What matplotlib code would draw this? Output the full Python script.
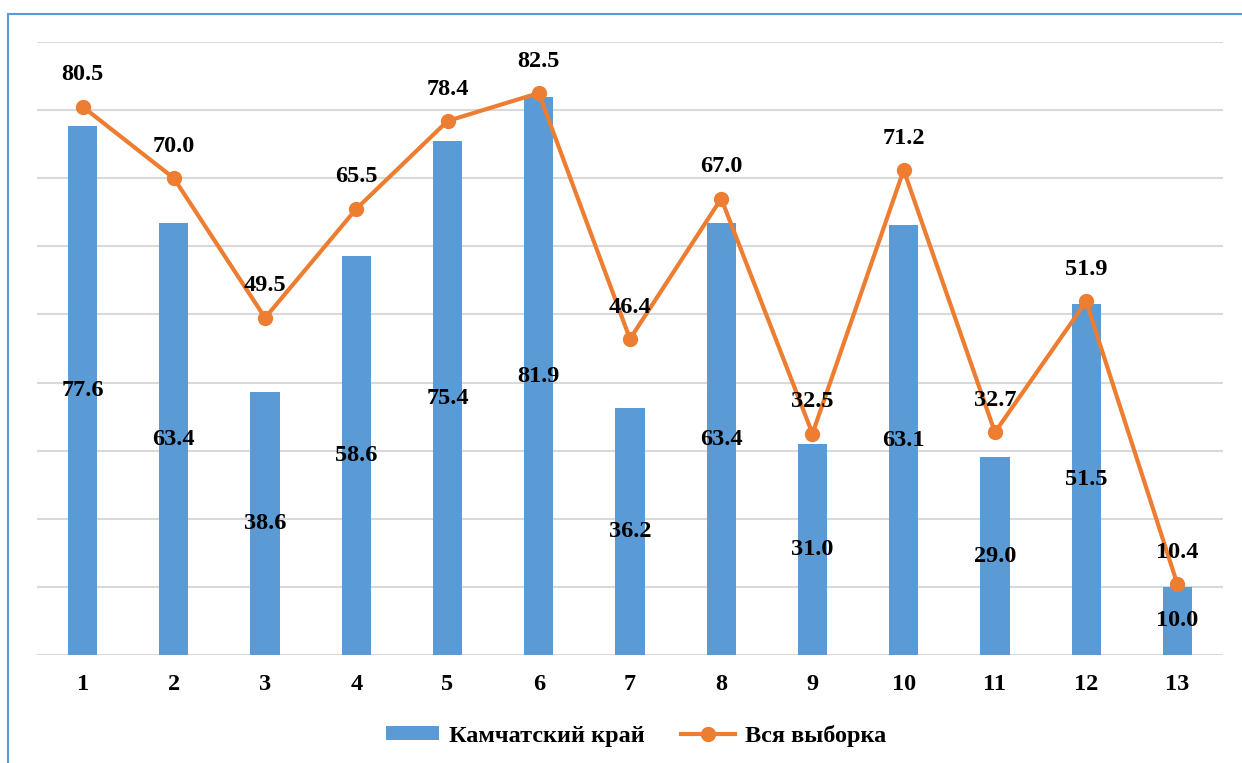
import matplotlib.pyplot as plt
from matplotlib.patches import Rectangle
import numpy as np

# data
categories = [str(i) for i in range(1, 14)]
kamchatka = [77.6, 63.4, 38.6, 58.6, 75.4, 81.9, 36.2, 63.4, 31.0, 63.1, 29.0, 51.5, 10.0]
whole_sample = [80.5, 70.0, 49.5, 65.5, 78.4, 82.5, 46.4, 67.0, 32.5, 71.2, 32.7, 51.9, 10.4]

blue = '#5B9BD5'
orange = '#ED7D31'
font = 'Liberation Serif'
fs = 17.5

fig = plt.figure(figsize=(12.42, 7.63), dpi=100)
ax = fig.add_axes([0.0298, 0.1415, 0.9549, 0.8035])

x = np.arange(1, len(categories) + 1)
bars = ax.bar(x, kamchatka, width=0.32, color=blue, zorder=2, label='Камчатский край')
line, = ax.plot(x, whole_sample, color=orange, linewidth=3, marker='o', markersize=10,
                zorder=3, label='Вся выборка')

# bar labels in the middle of each bar
for xi, v in zip(x, kamchatka):
    ax.text(xi, v / 2, f'{v:.1f}', ha='center', va='center', fontsize=fs,
            fontweight='bold', family=font, zorder=4)

# line labels above the markers
for xi, v in zip(x, whole_sample):
    ax.annotate(f'{v:.1f}', (xi, v), xytext=(0, 23), textcoords='offset points',
                ha='center', va='center', fontsize=fs, fontweight='bold',
                family=font, zorder=4)

ax.set_xlim(0.5, len(categories) + 0.5)
ax.set_ylim(0, 90)
ax.set_yticks(np.arange(0, 91, 10))
ax.yaxis.grid(True, color='#D9D9D9', linewidth=1.5, zorder=0)
ax.set_axisbelow(True)
ax.tick_params(axis='y', left=False, labelleft=False)
ax.tick_params(axis='x', length=0, pad=14)
ax.set_xticks(x)
ax.set_xticklabels(categories, fontsize=fs, fontweight='bold', family=font)
for s in ax.spines.values():
    s.set_visible(False)

fig.legend(handles=[bars, line], loc='center', bbox_to_anchor=(0.512, 0.036), ncol=2,
           frameon=False, prop={'family': font, 'weight': 'bold', 'size': fs},
           handlelength=2.2, handleheight=0.55, columnspacing=1.5, handletextpad=0.4)

# outer frame (cut at right and bottom)
fig.patches.append(Rectangle((8 / 1242, -0.05), 1.1, 1 - 14 / 763 + 0.05,
                             transform=fig.transFigure, fill=False,
                             edgecolor=blue, linewidth=1.5))

fig.savefig('out.png', dpi=100)
